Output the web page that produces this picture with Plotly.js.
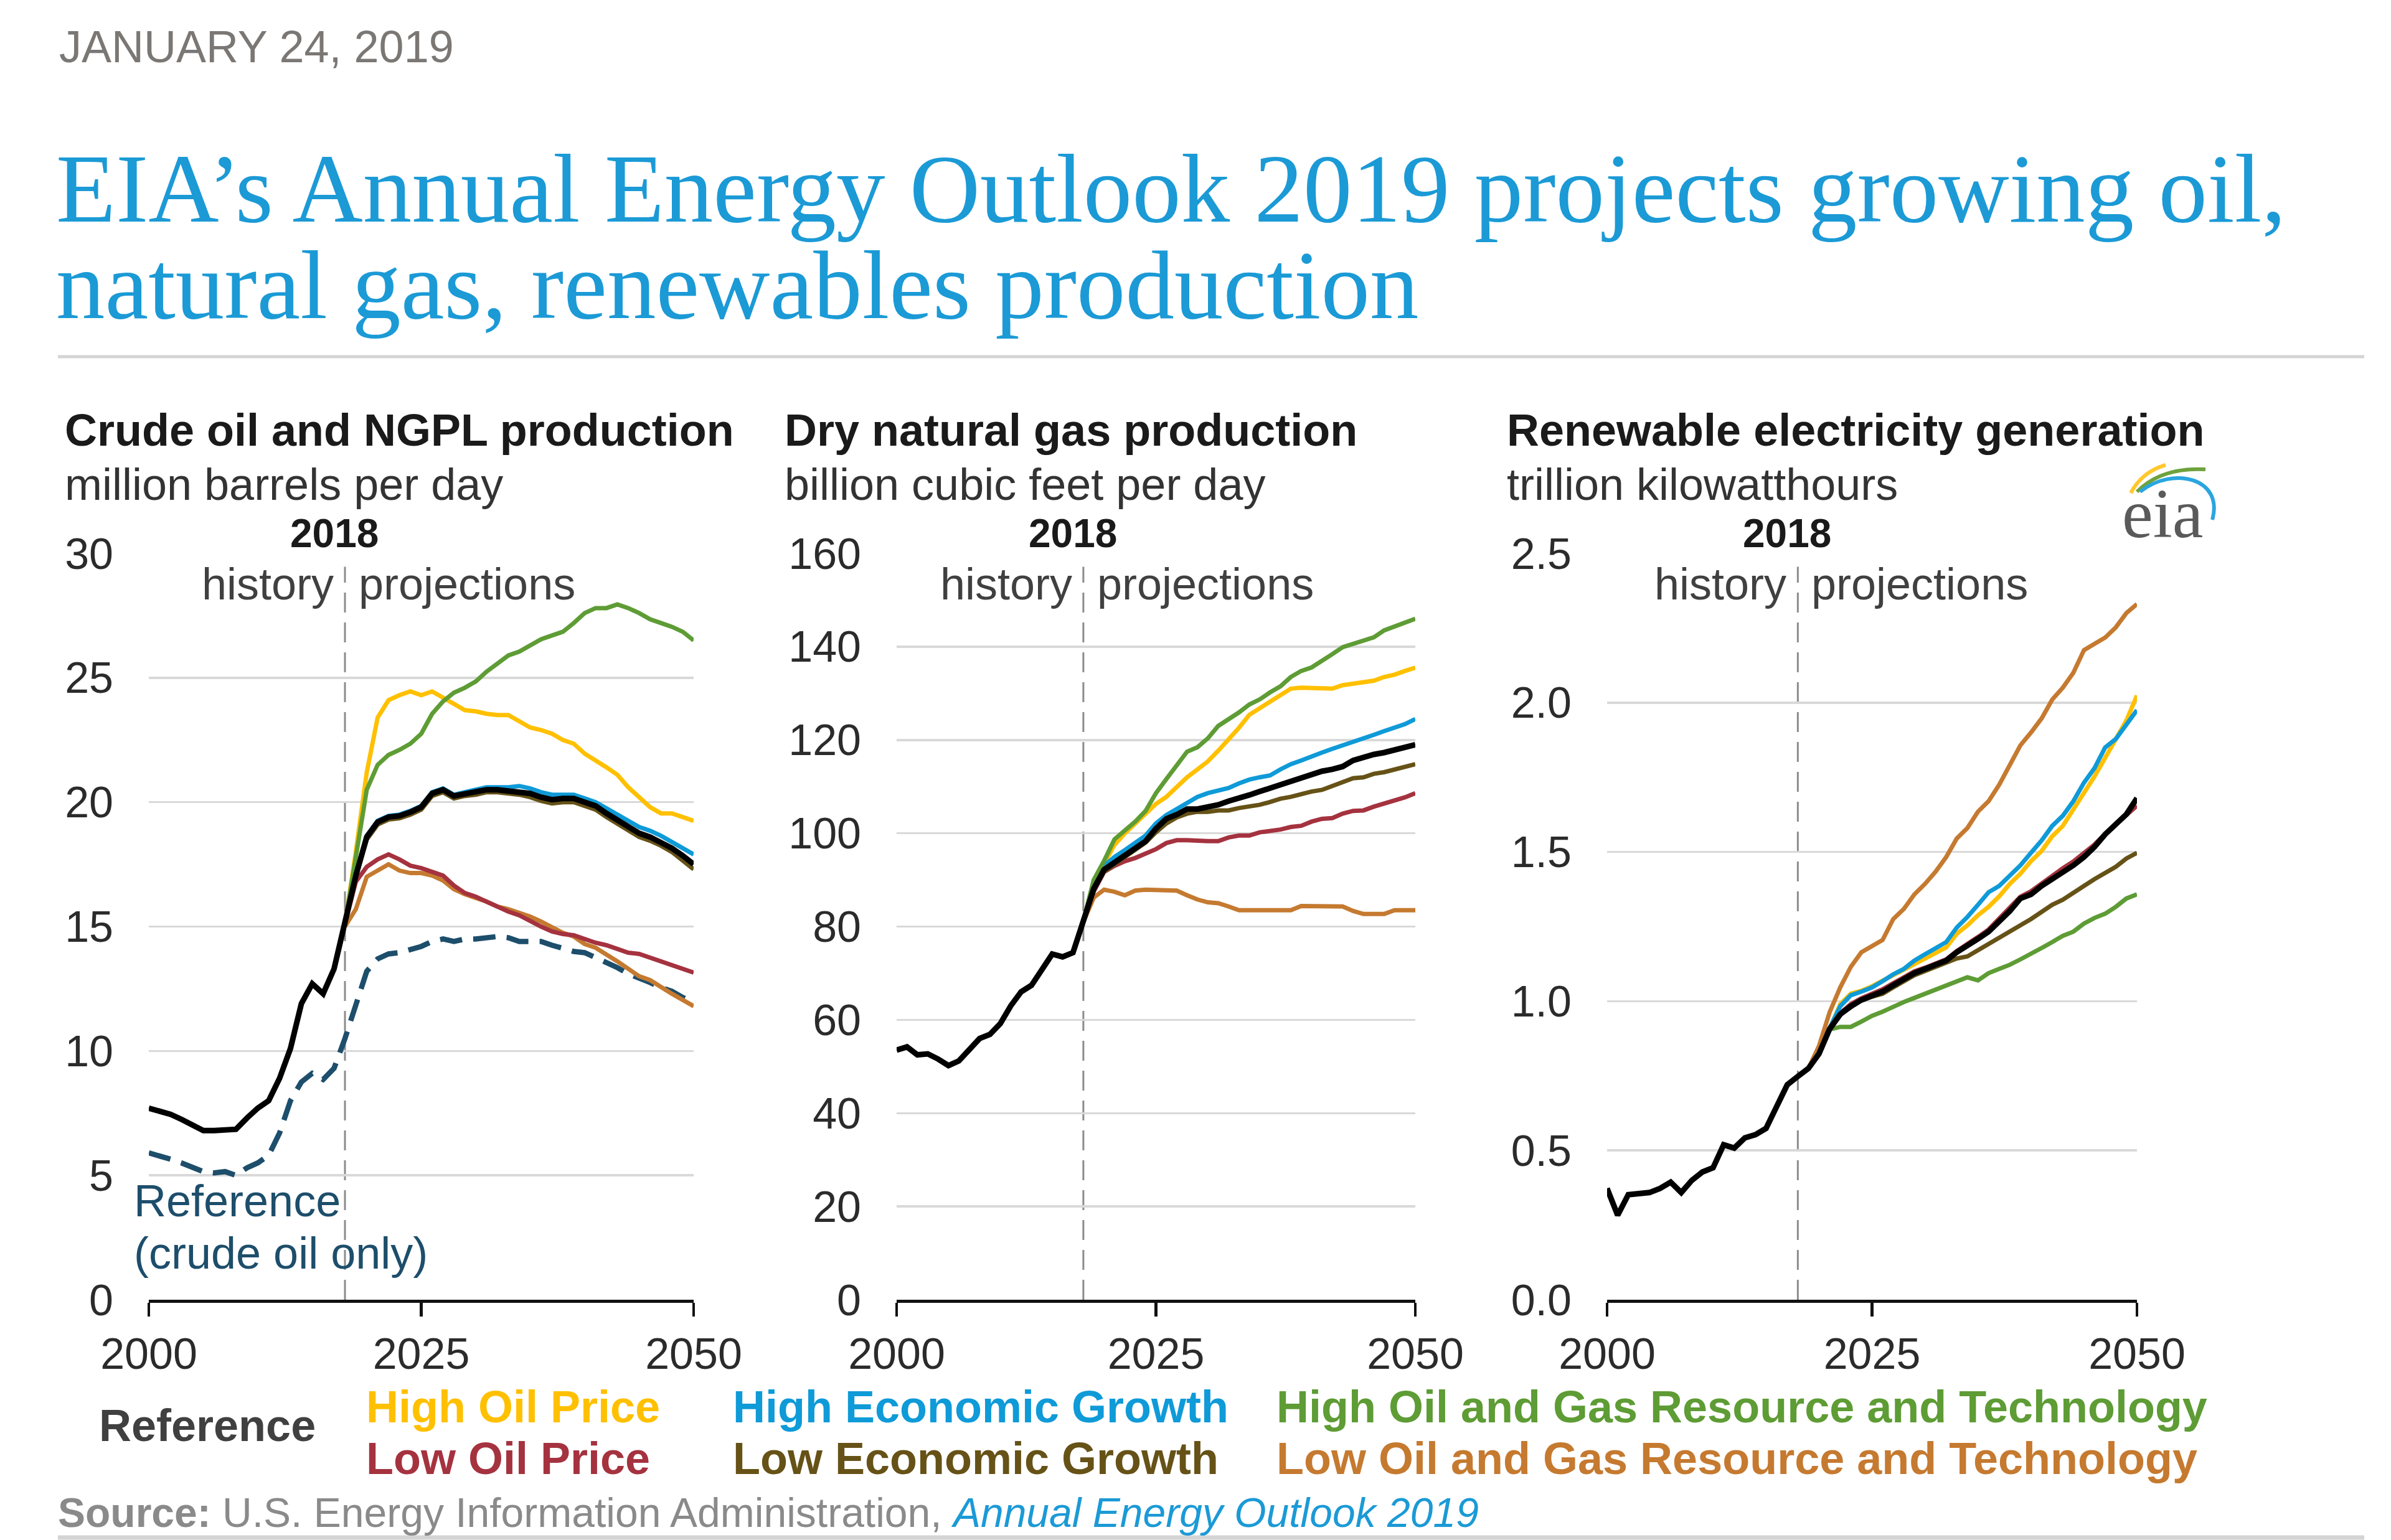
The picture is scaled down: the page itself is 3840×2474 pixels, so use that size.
<!DOCTYPE html>
<html>
<head>
<meta charset="utf-8">
<script src="https://cdn.plot.ly/plotly-3.0.1.min.js"></script>
<style>
  html, body { margin: 0; padding: 0; background: #ffffff; }
  #chart { width: 3840px; height: 2474px; }
</style>
</head>
<body>
<div id="chart"></div>
<script>
// ---------------- DATA ----------------
const yearsAll = [2000,2001,2002,2003,2004,2005,2006,2007,2008,2009,2010,2011,2012,2013,2014,2015,2016,2017,2018,2019,2020,2021,2022,2023,2024,2025,2026,2027,2028,2029,2030,2031,2032,2033,2034,2035,2036,2037,2038,2039,2040,2041,2042,2043,2044,2045,2046,2047,2048,2049,2050];
const yearsProj = [2018,2019,2020,2021,2022,2023,2024,2025,2026,2027,2028,2029,2030,2031,2032,2033,2034,2035,2036,2037,2038,2039,2040,2041,2042,2043,2044,2045,2046,2047,2048,2049,2050];
const dividerYear = 2018;

const scenarioNames = ["Reference","High Oil Price","Low Oil Price","High Economic Growth","Low Economic Growth","High Oil and Gas Resource and Technology","Low Oil and Gas Resource and Technology"];

// Crude oil and NGPL production (million barrels per day)
const oilReference = [7.7,7.6,7.45,7.25,7.0,6.8,6.8,6.8,6.85,7.3,7.7,8.0,8.9,10.1,11.9,12.7,12.3,13.3,15.1,17.05,18.6,19.2,19.4,19.45,19.6,19.8,20.35,20.5,20.25,20.35,20.4,20.5,20.5,20.45,20.4,20.35,20.2,20.1,20.15,20.15,20.0,19.85,19.55,19.3,19.05,18.75,18.6,18.4,18.15,17.85,17.5];
const oilCrudeOnly = [5.9,5.8,5.65,5.5,5.3,5.15,5.1,5.15,5.0,5.3,5.5,5.8,6.7,8.0,8.75,9.1,8.85,9.3,10.5,11.8,13.2,13.7,13.9,13.95,14.05,14.2,14.4,14.5,14.4,14.5,14.5,14.55,14.6,14.55,14.4,14.4,14.4,14.25,14.1,14.0,13.95,13.75,13.6,13.35,13.1,12.95,12.75,12.55,12.4,12.15,11.95];
const oilHighPrice = [15.1,18.0,21.2,23.4,24.1,24.3,24.45,24.3,24.45,24.2,23.95,23.7,23.65,23.55,23.5,23.5,23.25,23.0,22.9,22.75,22.5,22.35,21.95,21.7,21.4,21.1,20.6,20.2,19.8,19.55,19.55,19.4,19.25];
const oilLowPrice = [15.1,16.8,17.4,17.7,17.9,17.7,17.45,17.35,17.2,17.05,16.65,16.35,16.2,16.0,15.8,15.6,15.45,15.2,15.0,14.8,14.7,14.65,14.5,14.35,14.25,14.1,13.95,13.9,13.75,13.6,13.45,13.3,13.15];
const oilHighGrowth = [15.1,17.1,18.65,19.25,19.45,19.5,19.65,19.85,20.4,20.55,20.3,20.4,20.5,20.6,20.6,20.6,20.65,20.55,20.4,20.3,20.3,20.3,20.15,20.0,19.75,19.5,19.25,19.0,18.85,18.65,18.4,18.15,17.9];
const oilLowGrowth = [15.1,17.0,18.5,19.1,19.3,19.35,19.5,19.7,20.25,20.4,20.15,20.25,20.3,20.4,20.4,20.35,20.3,20.2,20.05,19.95,20.0,20.0,19.85,19.7,19.4,19.15,18.9,18.6,18.45,18.25,18.0,17.65,17.3];
const oilHighResource = [15.1,17.8,20.5,21.5,21.9,22.1,22.35,22.75,23.55,24.05,24.4,24.6,24.85,25.25,25.6,25.9,26.05,26.3,26.55,26.7,26.85,27.2,27.6,27.8,27.8,27.95,27.8,27.6,27.35,27.2,27.05,26.85,26.5];
const oilLowResource = [15.0,15.7,17.0,17.25,17.5,17.25,17.15,17.15,17.05,16.85,16.5,16.3,16.15,16.0,15.8,15.7,15.55,15.4,15.2,14.95,14.75,14.6,14.3,14.15,13.9,13.6,13.3,13.0,12.85,12.55,12.3,12.05,11.8];

// Dry natural gas production (billion cubic feet per day)
const gasReference = [53.5,54.2,52.5,52.7,51.6,50.2,51.2,53.5,56.0,56.9,59.2,63.0,66.0,67.4,71.0,74.1,73.5,74.4,81.2,88.1,92.2,93.75,95.3,96.8,98.3,101.0,103.1,104.0,105.2,105.2,105.5,106.1,106.9,107.4,108.2,108.95,109.7,110.5,111.2,112.0,112.6,113.3,113.7,114.3,115.6,116.3,116.9,117.3,117.8,118.45,119.0];
const gasHighPrice = [81.2,89.5,93.5,97.5,100.0,102.0,104.3,106.3,107.8,110.0,112.0,113.7,115.4,117.7,120.0,122.6,125.4,126.8,128.2,129.5,131.0,131.2,131.2,131.0,131.0,131.75,132.1,132.5,132.7,133.5,134.0,134.8,135.5];
const gasLowPrice = [81.2,87.5,91.7,93.0,94.0,94.7,95.65,96.6,97.9,98.5,98.5,98.3,98.3,98.3,99.1,99.5,99.5,100.2,100.4,100.8,101.35,101.6,102.5,103.1,103.25,104.2,104.8,104.9,105.7,106.3,107.05,107.7,108.6];
const gasHighGrowth = [81.2,88.5,93.0,94.9,96.4,97.9,99.5,102.1,103.9,105.2,106.4,107.8,108.6,109.1,109.7,110.7,111.5,112.0,112.4,113.7,114.8,115.6,116.55,117.3,118.1,118.8,119.6,120.35,121.1,121.9,122.6,123.4,124.5];
const gasLowGrowth = [81.2,88.0,91.8,93.3,94.8,96.3,98.0,100.2,102.1,103.4,104.2,104.6,104.6,104.9,104.9,105.4,105.7,106.1,106.7,107.4,107.8,108.4,108.95,109.3,110.1,111.0,111.8,112.0,112.75,113.1,113.7,114.3,114.8];
const gasHighResource = [81.2,90.0,94.1,98.7,100.6,102.5,104.8,108.6,111.6,114.65,117.5,118.45,120.35,123.0,124.4,125.9,127.6,128.7,130.2,131.5,133.5,134.8,135.55,137.1,138.4,139.9,140.6,141.4,142.0,143.5,144.3,145.05,146.0];
const gasLowResource = [81.0,86.2,87.9,87.45,86.7,87.7,87.9,87.9,87.9,87.7,86.7,85.8,85.2,85.0,84.3,83.5,83.5,83.5,83.5,83.5,83.5,84.4,84.4,84.4,84.4,84.3,83.35,82.7,82.7,82.7,83.5,83.5,83.5];

// Renewable electricity generation (trillion kilowatthours)
const renReference = [0.373,0.283,0.352,0.355,0.359,0.373,0.394,0.359,0.40,0.428,0.442,0.519,0.508,0.542,0.553,0.574,0.644,0.72,0.748,0.775,0.824,0.907,0.956,0.983,1.004,1.018,1.032,1.053,1.074,1.094,1.108,1.122,1.136,1.164,1.184,1.209,1.233,1.268,1.302,1.344,1.358,1.386,1.409,1.431,1.455,1.483,1.517,1.559,1.594,1.626,1.68];
const renHighPrice = [0.748,0.775,0.824,0.91,0.99,1.025,1.035,1.05,1.068,1.088,1.105,1.125,1.14,1.16,1.18,1.226,1.254,1.288,1.316,1.351,1.393,1.427,1.469,1.503,1.552,1.587,1.642,1.698,1.753,1.815,1.878,1.94,2.024];
const renLowPrice = [0.748,0.775,0.824,0.907,0.96,0.99,1.01,1.025,1.04,1.06,1.08,1.1,1.112,1.126,1.14,1.168,1.19,1.215,1.24,1.275,1.31,1.35,1.368,1.395,1.42,1.445,1.468,1.495,1.525,1.56,1.592,1.622,1.655];
const renHighGrowth = [0.748,0.775,0.824,0.91,0.983,1.02,1.032,1.046,1.067,1.09,1.108,1.136,1.157,1.178,1.198,1.247,1.282,1.323,1.365,1.386,1.42,1.455,1.497,1.538,1.587,1.621,1.67,1.732,1.781,1.85,1.878,1.927,1.975];
const renLowGrowth = [0.748,0.775,0.824,0.905,0.955,0.98,1.004,1.015,1.025,1.046,1.067,1.087,1.101,1.115,1.129,1.143,1.15,1.17,1.19,1.21,1.233,1.254,1.275,1.298,1.323,1.34,1.365,1.386,1.409,1.431,1.45,1.478,1.497];
const renHighResource = [0.748,0.775,0.83,0.905,0.914,0.914,0.932,0.951,0.965,0.983,0.997,1.011,1.025,1.039,1.053,1.067,1.08,1.07,1.094,1.108,1.122,1.14,1.157,1.178,1.198,1.219,1.233,1.26,1.279,1.293,1.316,1.344,1.358];
const renLowResource = [0.748,0.775,0.85,0.963,1.046,1.115,1.164,1.184,1.205,1.275,1.309,1.358,1.393,1.434,1.483,1.545,1.58,1.635,1.67,1.725,1.788,1.857,1.9,1.947,2.01,2.05,2.10,2.176,2.197,2.218,2.252,2.30,2.33];

const panelTitles = ["Crude oil and NGPL production","Dry natural gas production","Renewable electricity generation"];
const panelUnits = ["million barrels per day","billion cubic feet per day","trillion kilowatthours"];
const crudeLabel = ["Reference","(crude oil only)"];

// ---------------- STYLE ----------------
const W = 3840, H = 2474;
const SANS = "Liberation Sans, Arial, sans-serif";
const SERIF = "Liberation Serif, Times New Roman, serif";
const colors = {
  "Reference": "#000000",
  "High Oil Price": "#ffc000",
  "Low Oil Price": "#a5323f",
  "High Economic Growth": "#0f9ad8",
  "Low Economic Growth": "#665217",
  "High Oil and Gas Resource and Technology": "#5e9c35",
  "Low Oil and Gas Resource and Technology": "#c57a30"
};
const crudeColor = "#1d4e6b";
const px = x => x / W;
const py = y => 1 - y / H;

const panels = [
  {ax: "", ref: oilReference, sc: {"Low Oil and Gas Resource and Technology": oilLowResource, "Low Oil Price": oilLowPrice, "Low Economic Growth": oilLowGrowth, "High Oil Price": oilHighPrice, "High Economic Growth": oilHighGrowth, "High Oil and Gas Resource and Technology": oilHighResource}},
  {ax: "2", ref: gasReference, sc: {"Low Oil and Gas Resource and Technology": gasLowResource, "Low Oil Price": gasLowPrice, "Low Economic Growth": gasLowGrowth, "High Oil Price": gasHighPrice, "High Economic Growth": gasHighGrowth, "High Oil and Gas Resource and Technology": gasHighResource}},
  {ax: "3", ref: renReference, sc: {"Low Oil and Gas Resource and Technology": renLowResource, "Low Oil Price": renLowPrice, "Low Economic Growth": renLowGrowth, "High Oil Price": renHighPrice, "High Economic Growth": renHighGrowth, "High Oil and Gas Resource and Technology": renHighResource}}
];

const traces = [];
// dashed crude-only line (panel 1)
traces.push({x: yearsAll, y: oilCrudeOnly, xaxis: "x", yaxis: "y", mode: "lines", name: "Reference (crude oil only)",
  line: {color: crudeColor, width: 8.5, dash: "36px,18px"}, hoverinfo: "skip"});
panels.forEach(p => {
  Object.keys(p.sc).forEach(name => {
    traces.push({x: yearsProj, y: p.sc[name], xaxis: "x" + p.ax, yaxis: "y" + p.ax, mode: "lines", name: name,
      line: {color: colors[name], width: 7}, hoverinfo: "skip"});
  });
  traces.push({x: yearsAll, y: p.ref, xaxis: "x" + p.ax, yaxis: "y" + p.ax, mode: "lines", name: "Reference",
    line: {color: colors["Reference"], width: 9}, hoverinfo: "skip"});
});

const tickFont = {family: SANS, size: 70, color: "#2b2b2b"};
function xAxis(d0, d1, yref) {
  return {domain: [px(d0), px(d1)], range: [2000, 2050], tickvals: [2000, 2025, 2050], ticktext: ["2000","2025","2050"],
    ticks: "outside", ticklen: 22, tickwidth: 4.5, tickcolor: "#111", showline: true, linecolor: "#111", linewidth: 4.5,
    showgrid: false, zeroline: false, tickfont: tickFont, anchor: yref, ticklabelstandoff: 0, fixedrange: true};
}
const yDom = [py(2088), py(889)];
function yAxis(xref, max, dtick, fmt) {
  return {domain: yDom, range: [0, max], dtick: dtick, tick0: 0, tickformat: fmt, showgrid: true, gridcolor: "#d9d9d9", gridwidth: 3.5,
    zeroline: false, showline: false, ticks: "", tickfont: tickFont, anchor: xref, ticklabelstandoff: 56, fixedrange: true};
}

const ann = [];
function txt(text, x, y, opts) {
  ann.push(Object.assign({text: text, xref: "paper", yref: "paper", x: px(x), y: py(y), xanchor: "left", yanchor: "middle",
    showarrow: false, font: {family: SANS, size: 72, color: "#333"}}, opts || {}));
}
// header
txt("JANUARY 24, 2019", 93, 75, {font: {family: SANS, size: 72, color: "#7a7774"}});
txt("EIA’s Annual Energy Outlook 2019 projects growing oil,", 88, 303, {font: {family: SERIF, size: 157, color: "#1b9ad6"}});
txt("natural gas, renewables production", 88, 458, {font: {family: SERIF, size: 157, color: "#1b9ad6"}});

const titleX = [102, 1258, 2418];
panelTitles.forEach((t, i) => {
  txt("<b>" + t + "</b>", titleX[i], 691, {font: {family: SANS, size: 72, color: "#1a1a1a"}});
  txt(panelUnits[i], titleX[i], 778, {font: {family: SANS, size: 72, color: "#333"}});
  const xr = "x" + panels[i].ax;
  ann.push({text: "<b>2018</b>", xref: xr, yref: "paper", x: dividerYear, y: py(857), xanchor: "center", yanchor: "middle", xshift: -17,
    showarrow: false, font: {family: SANS, size: 64, color: "#1a1a1a"}});
  ann.push({text: "history", xref: xr, yref: "paper", x: dividerYear, y: py(938), xanchor: "right", yanchor: "middle", xshift: -16,
    showarrow: false, font: {family: SANS, size: 72, color: "#404040"}});
  ann.push({text: "projections", xref: xr, yref: "paper", x: dividerYear, y: py(938), xanchor: "left", yanchor: "middle", xshift: 20,
    showarrow: false, font: {family: SANS, size: 72, color: "#404040"}});
});
txt(crudeLabel[0], 213, 1929, {font: {family: SANS, size: 72, color: crudeColor}});
txt(crudeLabel[1], 213, 2013, {font: {family: SANS, size: 72, color: crudeColor}});

// legend (text only)
const legendPos = {
  "Reference": [157, 2290],
  "High Oil Price": [586, 2260], "Low Oil Price": [586, 2343],
  "High Economic Growth": [1175, 2260], "Low Economic Growth": [1175, 2343],
  "High Oil and Gas Resource and Technology": [2048, 2260], "Low Oil and Gas Resource and Technology": [2048, 2343]
};
scenarioNames.forEach(n => {
  const c = n === "Reference" ? "#404040" : colors[n];
  txt("<b>" + n + "</b>", legendPos[n][0], legendPos[n][1], {font: {family: SANS, size: 72, color: c}});
});
// source
txt("<b>Source:</b> U.S. Energy Information Administration, <i><span style='color:#1b9ad6'>Annual Energy Outlook 2019</span></i>", 91, 2430,
  {font: {family: SANS, size: 66, color: "#8a8a8a"}});

// eia logo text
ann.push({text: "eia", xref: "paper", yref: "paper", x: px(3473), y: py(825), xanchor: "center", yanchor: "middle", showarrow: false,
  font: {family: SERIF, size: 112, color: "#5a5a5a"}});

const P = (x, y) => px(x).toFixed(5) + "," + py(y).toFixed(5);
const shapes = [
  {type: "line", xref: "paper", yref: "paper", x0: px(93), x1: px(3797), y0: py(573), y1: py(573), line: {color: "#d4d4d4", width: 5}},
  {type: "line", xref: "paper", yref: "paper", x0: px(93), x1: px(3797), y0: py(2470), y1: py(2470), line: {color: "#d4d4d4", width: 7}},
  {type: "path", xref: "paper", yref: "paper", path: "M" + P(3422, 792) + " Q" + P(3440, 758) + " " + P(3478, 747), line: {color: "#ffc82e", width: 6}},
  {type: "path", xref: "paper", yref: "paper", path: "M" + P(3432, 790) + " Q" + P(3472, 750) + " " + P(3542, 754), line: {color: "#6ea23c", width: 6}},
  {type: "path", xref: "paper", yref: "paper", path: "M" + P(3437, 790) + " C" + P(3490, 748) + " " + P(3572, 768) + " " + P(3553, 835), line: {color: "#2aa5df", width: 6}}
];
panels.forEach(p => {
  shapes.push({type: "line", xref: "x" + p.ax, yref: "y" + p.ax + " domain", x0: dividerYear, x1: dividerYear, y0: 0, y1: 0.982,
    line: {color: "#8c8c8c", width: 3, dash: "32px,16px"}, layer: "below"});
});

const layout = {
  width: W, height: H, margin: {l: 0, r: 0, t: 0, b: 0}, paper_bgcolor: "#ffffff", plot_bgcolor: "#ffffff",
  showlegend: false, font: {family: SANS, color: "#333"},
  xaxis: xAxis(239, 1114, "y"), yaxis: yAxis("x", 30, 5, "d"),
  xaxis2: xAxis(1440, 2273, "y2"), yaxis2: yAxis("x2", 160, 20, "d"),
  xaxis3: xAxis(2581, 3432, "y3"), yaxis3: yAxis("x3", 2.5, 0.5, ".1f"),
  annotations: ann, shapes: shapes
};
Plotly.newPlot("chart", traces, layout, {staticPlot: true, displayModeBar: false});
</script>
</body>
</html>
